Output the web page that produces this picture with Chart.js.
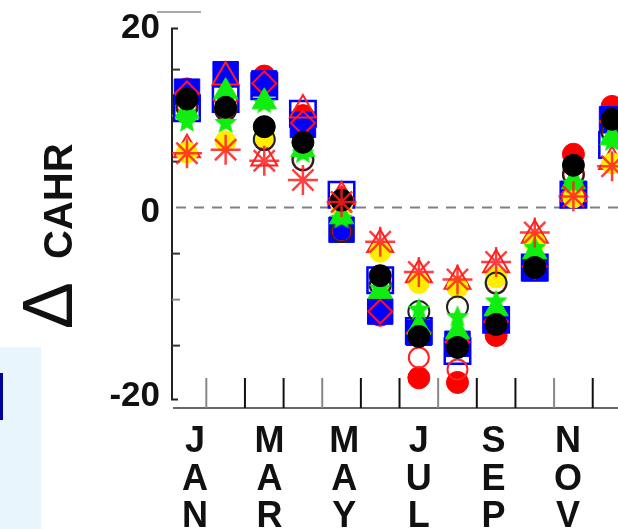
<!DOCTYPE html>
<html>
<head>
<meta charset="utf-8">
<script src="https://cdn.jsdelivr.net/npm/chart.js@4.4.1/dist/chart.umd.min.js"></script>
<style>
  html, body { margin: 0; padding: 0; background: #fff; overflow: hidden; }
  #wrap { position: relative; width: 618px; height: 529px; }
  #g { position: absolute; left: 0; top: 0; }
  .side { position: absolute; left: 0; top: 347px; width: 41px; height: 182px; background: #e9f5fd; }
  .bar { position: absolute; left: 0; top: 373px; width: 3px; height: 47px; background: #00009a; }
  .topmark { position: absolute; left: 157px; top: 11px; width: 44px; height: 2px; background: #aaa; }
  .rot { position: absolute; transform-origin: 0 0; transform: rotate(-90deg);
         white-space: nowrap; line-height: 1; font-family: "Liberation Sans", Arial, sans-serif; color: #111; }
  .delta { font-size: 70px; font-weight: normal; left: 13px; top: 329px; }
  .cahr { font-size: 40px; font-weight: bold; left: 38px; top: 259px; }
</style>
</head>
<body>
<div id="wrap">
  <div class="side"></div>
  <div class="bar"></div>
  <div class="topmark"></div>
  <canvas id="g" width="618" height="529"></canvas>
  <div class="rot delta">Δ</div>
  <div class="rot cahr">CAHR</div>
</div>
<script>
// months on the x axis, only every other one is labelled
const months = ['JAN', 'FEB', 'MAR', 'APR', 'MAY', 'JUN', 'JUL', 'AUG', 'SEP', 'OCT', 'NOV', 'DEC'];
const labelledMonths = [0, 2, 4, 6, 8, 10];

// y axis ticks (minor marks) and the ones with a label
const yTicks = [-20, -15, -10, -5, 0, 5, 10, 15, 20];
const yLabelled = [-20, 0, 20];

// one series per marker (Jan..Dec)
const redDot     = [12.9, 14.0, 14.3, 10.0, 0.8, -11.7, -18.5, -19.0, -13.9, -6.3, 5.8, 11.0];
const blueOpenSq = [10.8, 11.8, 13.2, 10.2, 1.4, -7.9, -13.4, -15.6, -12.2, -6.5, 1.4, 6.8];
const blueSq     = [12.6, 14.5, 13.5, 9.0, -2.4, -11.3, -13.6, -14.8, -12.2, -6.6, 1.5, 9.6];
const redDiamond = [12.4, 11.7, 13.5, 9.2, 1.0, -11.3, -13.6, -14.6, -12.4, -6.4, 1.5, 9.4];
const redTri     = [6.3, 14.2, 5.4, 10.6, 1.2, -4.0, -7.3, -8.0, -6.2, -3.0, 1.5, 5.0];
const redRing    = [11.1, 10.6, 7.4, 5.2, -2.6, -8.4, -16.3, -17.6, -8.2, -6.3, 3.6, 8.2];
const yellowDot  = [6.0, 7.2, 7.7, 7.1, 0.1, -4.8, -8.2, -8.7, -7.6, -3.8, 1.1, 4.8];
const blackRing  = [10.9, 10.6, 7.4, 5.2, -2.6, -8.4, -11.3, -10.8, -8.2, -6.3, 3.6, 8.2];
const greenTri   = [10.5, 12.6, 11.5, 6.3, -1.0, -9.1, -13.0, -13.5, -11.0, -4.8, 2.8, 7.6];
const greenStar  = [9.3, 9.2, 11.3, 5.9, -1.2, -8.8, -11.1, -11.9, -10.2, -4.4, 2.6, 7.2];
const blackDot   = [11.8, 10.9, 8.8, 7.1, 0.8, -7.4, -14.0, -15.2, -12.7, -6.5, 4.6, 9.6];
const redStar    = [5.9, 6.3, 5.1, 3.0, 0.6, -3.7, -7.0, -7.8, -5.9, -2.7, 1.2, 4.5];

// filled five point star as a point image
function starImage(R, color) {
    const c = document.createElement('canvas');
    c.width = c.height = 2 * R + 2;
    const g = c.getContext('2d');
    g.fillStyle = color;
    g.beginPath();
    for (let k = 0; k < 10; k++) {
        const rr = k % 2 ? R * 0.45 : R;
        const a = -Math.PI / 2 + k * Math.PI / 5;
        g.lineTo(R + 1 + rr * Math.cos(a), R + 1 + rr * Math.sin(a));
    }
    g.closePath();
    g.fill();
    return c;
}

const none = 'rgba(0,0,0,0)';
function series(label, values, style, r, fill, stroke, bw) {
    return {
        label: label,
        data: values.map((v, i) => ({ x: i, y: v })),
        pointStyle: style,
        pointRadius: r,
        pointBackgroundColor: fill,
        pointBorderColor: stroke,
        pointBorderWidth: bw,
        showLine: false,
        clip: false
    };
}

// bottom -> top
const layers = [
    series('redDot', redDot, 'circle', 11, '#ff0000', '#ff0000', 1),
    series('blueOpenSq', blueOpenSq, 'rect', 18, none, '#0000ff', 2.5),
    series('blueSq', blueSq, 'rect', 18, '#0000ff', '#0000ff', 1),
    series('redDiamond', redDiamond, 'rectRot', 12, none, '#ff1030', 2),
    series('redTri', redTri, 'triangle', 15, none, '#ff2020', 2),
    series('redRing', redRing, 'circle', 10, none, '#ff2020', 2),
    series('yellowDot', yellowDot, 'circle', 10.5, '#ffee00', '#ffee00', 1),
    series('blackRing', blackRing, 'circle', 10.5, none, '#222', 2),
    series('greenTri', greenTri, 'triangle', 14, '#10ee10', '#10ee10', 1),
    series('greenStar', greenStar, starImage(12, '#10ee10'), 12, '#10ee10', '#10ee10', 0),
    series('blackDot', blackDot, 'circle', 11, '#000', '#000', 1),
    series('redStar', redStar, 'star', 15, 'rgba(255,30,30,0.85)', 'rgba(255,30,30,0.85)', 2.5)
];
layers.forEach((d, i) => { d.order = layers.length - i; });

// axis frame, zero line and inner tick marks
const frame = {
    id: 'frame',
    beforeDatasetsDraw(chart) {
        const { ctx, chartArea: a, scales: { x, y } } = chart;
        ctx.save();
        const y0 = y.getPixelForValue(0);
        ctx.strokeStyle = '#808080';
        ctx.lineWidth = 2;
        ctx.setLineDash([10, 8]);
        ctx.beginPath();
        ctx.moveTo(a.left + 4, y0);
        ctx.lineTo(a.right, y0);
        ctx.stroke();
        ctx.setLineDash([]);

        // y axis line with small serifs
        const top = y.getPixelForValue(20) + 5;
        const bot = y.getPixelForValue(-20) + 8;
        ctx.strokeStyle = '#222';
        ctx.beginPath();
        ctx.moveTo(a.left + 6, top);
        ctx.lineTo(a.left, top);
        ctx.lineTo(a.left, bot);
        ctx.lineTo(a.left + 6, bot);
        ctx.stroke();
        yTicks.forEach(v => {
            if (yLabelled.includes(v)) return;
            const p = y.getPixelForValue(v);
            ctx.strokeStyle = Math.abs(v) % 10 ? '#333' : '#888';
            ctx.beginPath();
            ctx.moveTo(a.left, p);
            ctx.lineTo(a.left + 8, p);
            ctx.stroke();
        });

        // x axis line and month boundary marks
        ctx.strokeStyle = '#666';
        ctx.beginPath();
        ctx.moveTo(a.left + 1, a.bottom);
        ctx.lineTo(a.right, a.bottom);
        ctx.stroke();
        for (let i = 0; i < months.length - 1; i++) {
            const p = x.getPixelForValue(i + 0.5);
            ctx.strokeStyle = i % 3 === 0 ? '#888' : '#111';
            ctx.beginPath();
            ctx.moveTo(p, a.bottom - 30);
            ctx.lineTo(p, a.bottom);
            ctx.stroke();
        }
        ctx.restore();
    }
};

const tickFont = { family: '"Liberation Sans", Arial, sans-serif', size: 35, weight: 'bold', lineHeight: 1 };

new Chart(document.getElementById('g'), {
    type: 'scatter',
    data: { datasets: layers },
    options: {
        responsive: false,
        animation: false,
        events: [],
        layout: { autoPadding: false, padding: { top: 19, right: 0, bottom: 0, left: 0 } },
        plugins: { legend: { display: false }, tooltip: { enabled: false } },
        scales: {
            x: { type: 'linear', display: false, min: -0.388, max: 11.154 },
            xl: {
                type: 'linear', position: 'bottom', min: -0.617, max: 11.34,
                grid: { display: false, drawTicks: false },
                border: { display: false },
                afterBuildTicks: s => { s.ticks = labelledMonths.map(v => ({ value: v })); },
                afterFit: s => { s.height = 121; s.paddingLeft = 0; s.paddingRight = 0; },
                ticks: {
                    padding: 15, maxRotation: 0, autoSkip: false, color: '#111',
                    font: Object.assign({}, tickFont, { size: 36, lineHeight: 1.05 }),
                    callback: v => months[v].split('')
                }
            },
            y: {
                min: -21.78, max: 20.5,
                grid: { display: false, drawTicks: false },
                border: { display: false },
                afterBuildTicks: s => { s.ticks = yTicks.map(v => ({ value: v })); },
                afterFit: s => { s.width = 172; s.paddingTop = 0; s.paddingBottom = 0; },
                ticks: {
                    padding: 12, labelOffset: 5, color: '#111', font: tickFont,
                    callback: v => yLabelled.includes(v) ? String(v) : ''
                }
            }
        }
    },
    plugins: [frame]
});
</script>
</body>
</html>
